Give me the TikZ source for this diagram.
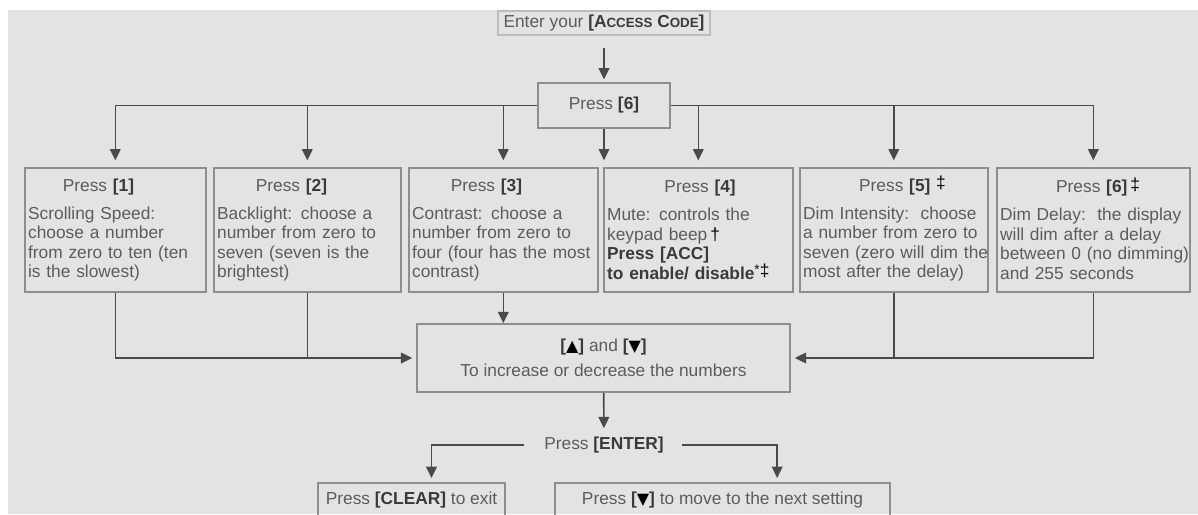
\documentclass[tikz,border=0pt]{standalone}
\usepackage{fontspec}
\setmainfont{Liberation Sans}
\newfontfamily\symfont{DejaVu Sans}
\usetikzlibrary{arrows.meta}

\definecolor{bggray}{HTML}{E3E3E3}
\definecolor{boxline}{HTML}{8E8E8E}
\definecolor{linegray}{HTML}{4A4A4A}
\definecolor{txtgray}{HTML}{5C5C5C}
\definecolor{boldgray}{HTML}{3A3A3A}

\newcommand{\keytxt}[1]{{\bfseries\color{boldgray}#1}}
\newcommand{\upkey}{\keytxt{[}{\symfont\fontsize{12}{12}\selectfont\color{black}▲}\keytxt{]}}
\newcommand{\downkey}{\keytxt{[}{\symfont\fontsize{12}{12}\selectfont\color{black}▼}\keytxt{]}}
\newcommand{\dagmark}{{\color{black}\,†}}
\newcommand{\ddagmark}{{\color{black}\smash{\raisebox{2pt}{‡}}}}

\begin{document}
\begin{tikzpicture}[x=0.75pt,y=-0.75pt,
    font=\fontsize{13}{14.6}\selectfont,
    stepbox/.style={draw=boxline, line width=1.2pt, anchor=north west, align=left,
        text=txtgray, inner xsep=2.5pt, minimum height=93pt},
    keybox/.style={draw=boxline, line width=1.2pt, text=txtgray, align=center},
    lowbox/.style={draw=boxline, line width=1.2pt, text=txtgray, anchor=north,
        text height=13.5pt, text depth=20pt, inner ysep=3pt},
    arr/.style={draw=linegray, line width=1.2pt, -{Triangle[length=8.5pt,width=8pt]}},
    link/.style={draw=linegray, line width=1.2pt}]

    \useasboundingbox (0,0) rectangle (1198,514);
    \clip (0,0) rectangle (1198,514);
    \fill[white] (0,0) rectangle (1198,514);
    \fill[bggray] (8,10) rectangle (1198,514);

    \node[keybox, draw=boxline!60, line width=0.8pt, minimum width=159pt, minimum height=18pt, inner sep=1pt] (acc) at (604,23)
        {Enter your \keytxt{[A{\fontsize{10}{10}\selectfont CCESS} C{\fontsize{10}{10}\selectfont ODE}]}};
    \node[keybox, minimum width=99pt, minimum height=33.75pt] (p6) at (604,105.5) {Press \keytxt{[6]}};

    \node[stepbox, text width=130.75pt] (b1) at (24,167)
        {\hspace*{26pt}Press \keytxt{[1]}\\[6.4pt]
         Scrolling Speed:\\ choose a number\\ from zero to ten (ten\\ is the slowest)};
    \node[stepbox, text width=135.25pt] (b2) at (213,167)
        {\hspace*{29pt}Press \keytxt{[2]}\\[6.4pt]
         Backlight: choose a\\ number from zero to\\ seven (seven is the\\ brightest)};
    \node[stepbox, text width=136.75pt] (b3) at (408,167)
        {\hspace*{29pt}Press \keytxt{[3]}\\[6.4pt]
         Contrast: choose a\\ number from zero to\\ four (four has the most\\ contrast)};
    \node[stepbox, text width=136.75pt] (b4) at (603,167)
        {\hspace*{43pt}Press \keytxt{[4]}\\[6.4pt]
         Mute: controls the\\ keypad beep\dagmark\\ \keytxt{Press [ACC]}\\ \keytxt{to enable/ disable\textsuperscript{*}}\ddagmark};
    \node[stepbox, text width=136pt] (b5) at (799,167)
        {\hspace*{42pt}Press \keytxt{[5]} \ddagmark\\[6.4pt]
         Dim Intensity:\ \ choose\\ a number from zero to\\ \mbox{seven (zero will dim the}\\ most after the delay)};
    \node[stepbox, text width=139.75pt] (b6) at (996,167)
        {\hspace*{42pt}Press \keytxt{[6]}\,\ddagmark\\[6.4pt]
         Dim Delay:\ \ the display\\ will dim after a delay\\ \mbox{between 0 (no dimming)}\\ and 255 seconds};

    \node[keybox, minimum width=279.75pt, minimum height=51pt] (mid) at (603.5,358)
        {\upkey{} and \downkey\\[4pt] To increase or decrease the numbers};

    \node[text=txtgray] (ent) at (604,445) {Press \keytxt{[ENTER]}};
    \node[lowbox, minimum width=140pt] (clr) at (411.5,482) {Press \keytxt{[CLEAR]} to exit};
    \node[lowbox, minimum width=251pt] (nxt) at (722.5,482) {Press \downkey{} to move to the next setting};

    % top part
    \draw[arr, shorten <=9pt, shorten >=2pt] (acc) -- (p6);
    \draw[arr, shorten >=5pt] (p6.west) -| (b1);
    \draw[arr, shorten >=5pt] (p6.west) -| (b2);
    \draw[arr, shorten >=5pt] (p6.west) -| (b3);
    \draw[arr, shorten >=5pt] (p6.south) -- (p6.south |- b4.north);
    \draw[arr, shorten >=5pt] (p6.east) -| (b4);
    \draw[arr, shorten >=5pt] (p6.east) -| (b5);
    \draw[arr, shorten >=5pt] (p6.east) -| (b6);

    % into the arrow keys box
    \draw[arr, shorten >=3pt] (b1) |- (mid);
    \draw[link] (b2) -- (b2 |- mid);
    \draw[arr] (b3) -- (b3 |- mid.north);
    \draw[arr, shorten >=3pt] (b6) |- (mid);
    \draw[link] (b5) -- (b5 |- mid);

    % bottom part
    \draw[arr, shorten >=3pt] (mid) -- (ent);
    \draw[arr, shorten <=12pt, shorten >=3pt] (ent.west) -| ([xshift=15pt]clr.north);
    \draw[arr, shorten <=10pt, shorten >=3pt] (ent.east) -| ([xshift=41pt]nxt.north);

\end{tikzpicture}
\end{document}
